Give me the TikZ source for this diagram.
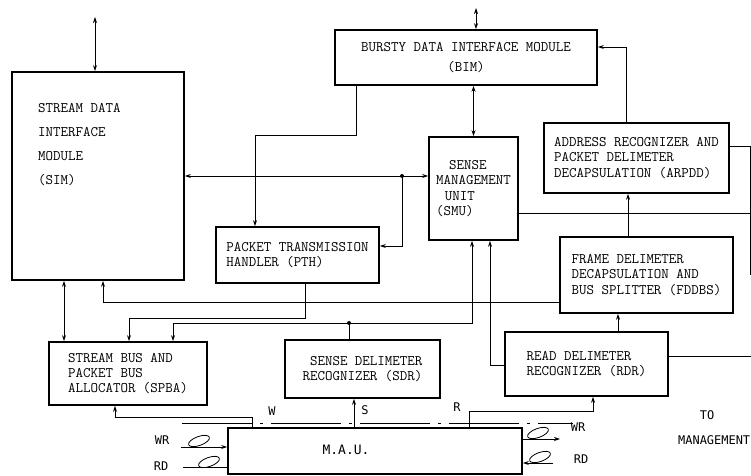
\documentclass[tikz,border=0pt]{standalone}
\usepackage{fontspec}
\usepackage{tikz}
\usetikzlibrary{arrows.meta}
\newfontfamily\handfont{DejaVu Sans Mono}
\newcommand\boxfont{\fontsize{14.6}{15.5}\selectfont\ttfamily}
\newcommand\lblfont{\fontsize{12}{14}\selectfont\handfont}

\begin{document}
\begin{tikzpicture}[x=1bp,y=-1bp,
  blk/.style={draw,line width=1.6bp,align=left,font=\boxfont,inner sep=0pt},
  txt/.style={align=left,inner sep=0pt},
  wire/.style={line width=0.8bp},
  lbl/.style={font=\lblfont,inner sep=0pt},
  >={Stealth[length=6bp,width=4bp]},
]
\useasboundingbox (0,0) rectangle (751,476);
% module boxes
\node[blk,minimum width=172bp,minimum height=208bp] (sim) at (98,176) {};
\node[txt,anchor=north west,font=\fontsize{14.6}{24}\selectfont\ttfamily] (simtxt) at (38,103) {STREAM DATA\\INTERFACE\\MODULE\\(SIM)};
\node[blk,minimum width=262bp,minimum height=55bp,align=center,font=\fontsize{14.6}{20}\selectfont\ttfamily] (bim) at (466,57.5) {BURSTY DATA INTERFACE MODULE\\(BIM)};
\node[blk,minimum width=89bp,minimum height=103bp] (smu) at (473.5,188.5) {\hspace*{0.9em}SENSE\\MANAGEMENT\\\hspace*{0.6em}UNIT\\(SMU)};
\node[blk,minimum width=185bp,minimum height=70bp] (arpdd) at (636.5,158) {ADDRESS RECOGNIZER AND\\PACKET DELIMETER\\DECAPSULATION (ARPDD)};
\node[blk,minimum width=173bp,minimum height=76bp] (fddbs) at (646.5,275) {FRAME DELIMETER\\DECAPSULATION AND\\BUS SPLITTER (FDDBS)};
\node[blk,minimum width=163bp,minimum height=56bp] (pth) at (297.5,255) {PACKET TRANSMISSION\\HANDLER (PTH)};
\node[blk,minimum width=163bp,minimum height=64bp] (rdr) at (586.5,364) {READ DELIMETER\\RECOGNIZER (RDR)};
\node[blk,minimum width=155bp,minimum height=58bp,align=right] (sdr) at (362.5,369) {SENSE DELIMETER\\RECOGNIZER (SDR)};
\node[blk,minimum width=158bp,minimum height=63bp] (spba) at (128,373.5) {STREAM BUS AND\\PACKET BUS\\ALLOCATOR (SPBA)};
\node[blk,minimum width=294bp,minimum height=46bp] (mau) at (375,451) {};
\node[lbl,font=\fontsize{13}{15}\selectfont\handfont] (maulbl) at (346,450) {M.A.U.};
% bend points
\coordinate (simup) at (95,17);
\coordinate (bimup) at (476,8);
\coordinate (bimdn) at (356,135);
\coordinate (pthin) at (255,135);
\coordinate (jsm) at (402,176);
\coordinate (pthdn) at (305,318);
\coordinate (spbain) at (129,318);
\coordinate (busx) at (64,300);
\coordinate (fdl) at (103,302);
\coordinate (sdj) at (349,323);
\coordinate (smb) at (472,323);
\coordinate (spbb) at (173,323);
\coordinate (rdl) at (490,365);
\coordinate (rdup) at (618,320);
\coordinate (fdup) at (628,210);
\coordinate (ab) at (626,47);
\coordinate (mgt) at (750,146);
\coordinate (mgb) at (750,275);
\coordinate (smr) at (750,213);
\coordinate (rdrr) at (751,356);
\coordinate (wup) at (252,417);
\coordinate (wdn) at (115,417);
\coordinate (sx) at (354,410);
\coordinate (rup) at (469,411);
\coordinate (rdn) at (593,411);
\coordinate (bus1) at (182,423);
\coordinate (bus2) at (573,423);
\coordinate (wrin) at (181,447);
\coordinate (rdin) at (183,467);
\coordinate (wrout) at (560,439);
\coordinate (rdout) at (553,463);
% external ports
\draw[wire,<->] (simup) -- (simup |- sim.north);
\draw[wire,<->] (bimup) -- (bimup |- bim.north);
% BIM / SMU / PTH
\draw[wire,<->] (bim.south -| smu.north) -- (smu.north);
\draw[wire,->] (bimdn |- bim.south) -- (bimdn) -- (pthin) -- (pthin |- pth.north);
\draw[wire,<->] (sim.east |- jsm) -- (smu.west |- jsm);
\fill (jsm) circle (2bp);
\draw[wire,->] (jsm) |- ([yshift=9bp]pth.east);
% PTH -> SPBA, SIM <-> SPBA
\draw[wire,->] (pthdn |- pth.south) -- (pthdn) -- (spbain) -- (spbain |- spba.north);
\draw[wire,<->] (busx |- sim.south) -- (busx |- spba.north);
% FDDBS -> SIM
\draw[wire,->] (fddbs.west |- fdl) -- (fdl) -- (fdl |- sim.south);
% SDR -> SMU, SPBA
\draw[wire] (sdj |- sdr.north) -- (sdj);
\fill (sdj) circle (2bp);
\draw[wire,->] (sdj) -- (smb) -- (smb |- smu.south);
\draw[wire,->] (sdj) -- (spbb) -- (spbb |- spba.north);
% RDR -> SMU, RDR -> FDDBS -> ARPDD -> BIM
\draw[wire,->] (rdr.west |- rdl) -- (rdl) -- (rdl |- smu.south);
\draw[wire,->] (rdup |- rdr.north) -- (rdup |- fddbs.south);
\draw[wire,->] (fdup |- fddbs.north) -- (fdup |- arpdd.south);
\draw[wire,->] (ab |- arpdd.north) -- (ab) -- (ab -| bim.east);
% lines to management
\draw[wire] (arpdd.east |- mgt) -- (mgt) -- (mgb);
\draw[wire] (smu.east |- smr) -- (smr);
\draw[wire] (rdr.east |- rdrr) -- (rdrr);
% MAU taps W, S, R
\draw[wire,->] (wup |- mau.north) -- (wup) -- (wdn) -- (wdn |- spba.south);
\draw[wire,->] (sx |- mau.north) -- (sx |- sdr.south);
\draw[wire,->] (rup |- mau.north) -- (rup) -- (rdn) -- (rdn |- rdr.south);
\draw[wire,dash pattern=on 70bp off 8bp on 3bp off 8bp] (bus1) -- (bus2);
% twisted pairs
\draw[wire,->] (wrin) -- (wrin -| mau.west);
\draw[wire,rotate around={20:(199,441)}] (199,441) ellipse (11bp and 4.5bp);
\draw[wire] (rdin) -- (rdin -| mau.west);
\draw[wire,rotate around={20:(209,462)}] (209,462) ellipse (11bp and 4.5bp);
\draw[wire,->] (mau.east |- wrout) -- (wrout);
\draw[wire,rotate around={20:(538,433)}] (538,433) ellipse (11bp and 4.5bp);
\draw[wire,->] (rdout) -- (rdout -| mau.east);
\draw[wire,rotate around={20:(540,457)}] (540,457) ellipse (11bp and 4.5bp);
% labels
\node[lbl] (wlbl) at (272,411) {W};
\node[lbl] (slbl) at (365,410) {S};
\node[lbl] (rlbl) at (457,407) {R};
\node[lbl] (wrlbl) at (162,440) {WR};
\node[lbl] (rdlbl) at (161,466) {RD};
\node[lbl] (wrlbl2) at (578,427) {WR};
\node[lbl] (rdlbl2) at (581,459) {RD};
\node[lbl] (tolbl) at (707,415) {TO};
\node[lbl,anchor=west] (mgmt) at (678,440) {MANAGEMENT};
\end{tikzpicture}
\end{document}
